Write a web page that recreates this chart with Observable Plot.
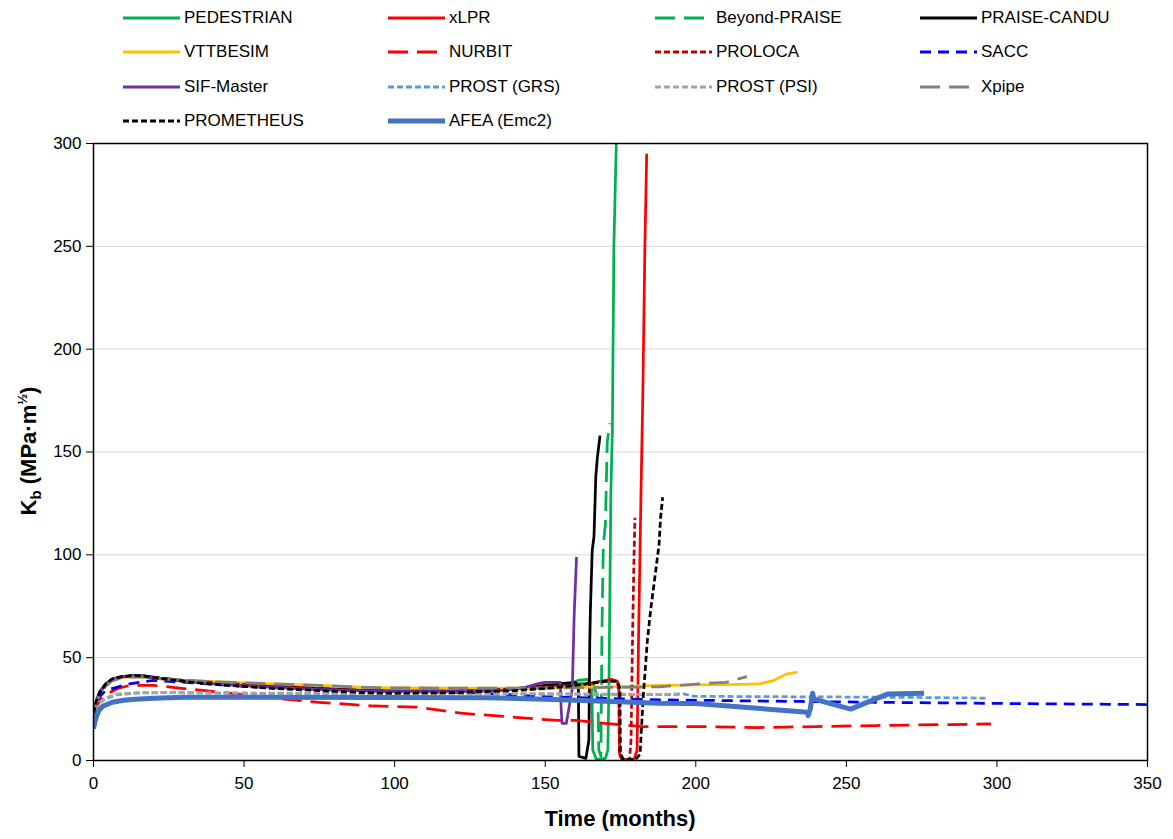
<!DOCTYPE html>
<html>
<head>
<meta charset="utf-8">
<script src="https://cdn.jsdelivr.net/npm/d3@7"></script>
<script src="https://cdn.jsdelivr.net/npm/@observablehq/plot@0.6"></script>
<style>
  body { margin: 0; background: #fff; font-family: Arial, "Liberation Sans", sans-serif; }
  #legend { position: relative; width: 1173px; height: 130px; }
  .item { position: absolute; display: flex; align-items: center; height: 24px; font-size: 17px; color: #000; white-space: nowrap; }
  .item svg { margin-right: 4px; }
</style>
</head>
<body>
<div id="legend"></div>
<div id="chart"></div>
<script>
// ---- Data: [time (months), Kb (MPa·m^1/2)] ----
const PEDESTRIAN = [[0,23],[1,29.5],[2,33.5],[4,37.3],[6,39.5],[9,40.8],[13,41.3],[17,41],[22,40],[30,39],[40,38],[50,37],[60,36],[75,35],[90,34.2],[100,34],[120,34],[140,35],[150,36],[158,37],[161,39],[164,39.5],[165.5,36],[165.8,5],[167,0.5],[170,1],[170.8,5],[171.2,40],[171.8,130],[172.3,160],[172.8,250],[173.6,300]];
const xLPR = [[0,23],[1,29],[2,33],[4,37],[6,39.3],[9,40.6],[13,41.2],[17,41],[22,40],[30,38.8],[40,38],[50,37],[60,36],[75,35],[90,34],[100,33.7],[120,33.8],[140,34.8],[155,36],[165,37.5],[168,38.5],[172,39.5],[174,38.5],[174.5,34],[174.7,3],[176,0.5],[179.5,0.5],[180.5,5],[181,60],[181.8,130],[182.4,177],[183.1,250],[183.7,295]];
const BeyondPRAISE = [[0,23],[1,29],[2,33],[4,37],[6,39.3],[9,40.6],[13,41.2],[17,41],[22,40],[30,38.8],[40,38],[50,37],[60,36],[75,35],[90,34],[100,33.8],[120,34],[140,35],[155,36.5],[163,37.5],[166,37],[167.5,30],[167.8,5],[168.5,2],[168.8,58],[169,79],[169.3,105],[170,115],[170.6,155],[171.5,164]];
const PRAISECANDU = [[0,23],[1,29],[2,33],[4,37],[6,39.3],[9,40.6],[13,41.2],[17,41],[22,40],[30,38.8],[40,38],[50,37],[60,36],[75,35],[90,34],[100,33.5],[115,33.5],[130,34],[140,35],[150,36.5],[156,37.5],[160,38],[161,36],[161.2,2],[163.5,1],[164.5,10],[164.8,58],[165,73],[165.6,102],[166.2,109],[166.8,138],[167.3,147],[168.2,158]];
const VTTBESIM = [[0,23],[1,29],[2,33],[4,37],[6,39],[9,40.3],[13,40.8],[17,40.5],[22,39.8],[30,39],[40,38.3],[50,37.8],[60,37.3],[75,36.5],[90,35.6],[100,35.3],[120,35.2],[150,35.2],[170,35.8],[188,36.5],[200,36.8],[215,37],[221,37.2],[226,39],[230,42],[233.7,43]];
const NURBIT = [[0,22],[1,26],[2,29],[4,32],[8,35],[12,36.5],[20,36.5],[30,35],[40,33.5],[50,32],[62,30],[75,28.3],[93,26.5],[107,26],[122,23],[140,21],[154,19.5],[160,19.5],[170,18],[182,16.5],[200,16.5],[220,16],[240,16.5],[260,17],[285,17.5],[298,17.8]];
const PROLOCA = [[0,23],[1,29],[2,33],[4,37],[6,39.3],[9,40.6],[13,41.2],[17,41],[22,40],[30,38.8],[40,38],[50,37],[60,36],[75,35],[90,34],[100,33.6],[120,33.8],[140,34.8],[155,36],[165,37.5],[172,39],[174,38.5],[174.5,33],[174.6,3],[175.5,0.5],[178,0.5],[178.5,10],[179,60],[179.5,100],[179.8,118]];
const SACC = [[0,21],[1,27],[2,31],[4,34],[8,35.7],[12,37.3],[19.5,38.9],[25,38.5],[35,37.5],[50,36],[75,34.5],[100,33.5],[125,33],[150,31],[175,30],[188,29.5],[235,28.7],[255,28.4],[288,27.9],[320,27.5],[350,27.2]];
const SIFMaster = [[0,23],[1,29],[2,33],[4,37],[6,39.4],[9,40.5],[13,41],[17,40.8],[22,39.8],[30,38.5],[40,37.3],[50,36.3],[60,35.5],[75,34.5],[90,33.8],[100,33.5],[120,33.5],[135,34],[142,35],[148,37.5],[150,38],[155,38],[155.3,25],[155.6,18],[157,18],[159,35],[159.6,70],[160.4,99]];
const PROSTGRS = [[0,20],[1,25],[2,28],[4,30],[8,32],[15,32.8],[25,33],[50,32.7],[100,32.5],[150,32.3],[188,32],[196,32.4],[199.4,31.2],[230,31],[260,30.8],[285,30.5],[297,30.3]];
const PROSTPSI = [[0,20],[1,25],[2,28.3],[4,30.5],[8.4,32.4],[15,33],[24,33],[50,32.8],[100,32.5],[150,32.5],[180,32.2],[195,32]];
const Xpipe = [[0,22],[1,28],[2,32],[4,36],[6,38.5],[9,40],[13,40.6],[17,40.5],[22,39.8],[30,39],[40,38.3],[50,37.8],[60,37.3],[75,36.5],[90,35.6],[100,35.3],[120,35.2],[150,35.2],[170,35.5],[188,35.8],[201,37.3],[210,38],[217,40.8]];
const PROMETHEUS = [[0,23],[1,29],[2,33],[4,37],[6,39.5],[9,40.6],[13,41.3],[17,41],[22,40],[30,38.5],[40,37],[50,36],[60,35],[75,34],[90,33],[100,32.7],[120,33],[140,34],[150,35],[160,36.5],[170,38.5],[174,38.5],[174.8,35],[175,3],[176,0.5],[180,0.5],[181.5,3],[182.5,30],[183.9,58],[185,73],[186.5,90],[187.8,105],[188.3,118],[189,128]];
const AFEA = [[0,15.5],[0.5,19],[1,21.5],[1.8,24.3],[3,26.3],[6.2,28.3],[10,29.3],[14,29.8],[20,30.3],[30,30.7],[50,30.8],[100,30.6],[130,30.5],[150,29.8],[170,28.8],[188,27.8],[200,27.7],[215,26],[237,23.5],[237.3,21.8],[238,25],[238.8,32.7],[239.2,30],[245,27.5],[251.4,25],[263.6,32.3],[275.8,32.7]];

const xTicks = [0,50,100,150,200,250,300,350];
const yTicks = [0,50,100,150,200,250,300];

// name, data, color, width, dash
const series = [
  ["PEDESTRIAN", PEDESTRIAN, "#00B050", 2.75, null],
  ["xLPR", xLPR, "#FF0000", 2.75, null],
  ["Beyond-PRAISE", BeyondPRAISE, "#00B050", 2.75, "20,9"],
  ["PRAISE-CANDU", PRAISECANDU, "#000000", 2.75, null],
  ["VTTBESIM", VTTBESIM, "#FFC000", 2.75, null],
  ["NURBIT", NURBIT, "#FF0000", 2.75, "20,9"],
  ["PROLOCA", PROLOCA, "#C00000", 2.75, "6,3"],
  ["SACC", SACC, "#0000FF", 2.75, "11,7"],
  ["SIF-Master", SIFMaster, "#7030A0", 2.75, null],
  ["PROST (GRS)", PROSTGRS, "#5B9BD5", 2.75, "6,3"],
  ["PROST (PSI)", PROSTPSI, "#A5A5A5", 2.75, "6,3"],
  ["Xpipe", Xpipe, "#808080", 2.75, "20,9"],
  ["PROMETHEUS", PROMETHEUS, "#000000", 2.75, "6,3"],
  ["AFEA (Emc2)", AFEA, "#4472C4", 5, null]
];

// ---- Legend ----
const legend = document.getElementById("legend");
const colX = [123, 388, 655, 920];
const rowY = [6, 40, 75, 109];
series.forEach(([name, , color, w, dash], i) => {
  const div = document.createElement("div");
  div.className = "item";
  div.style.left = colX[i % 4] + "px";
  div.style.top = rowY[Math.floor(i / 4)] + "px";
  div.innerHTML = `<svg width="57" height="10"><line x1="0" x2="57" y1="5" y2="5" stroke="${color}" stroke-width="${w === 5 ? 5 : 3}" ${dash ? `stroke-dasharray="${dash}"` : ""}/></svg><span>${name}</span>`;
  legend.appendChild(div);
});

// ---- Chart ----
const marks = [
  Plot.gridY(yTicks.filter(v => v > 0 && v < 300), {stroke: "#d9d9d9", strokeOpacity: 1, strokeWidth: 1}),
  ...series.map(([name, data, color, w, dash]) =>
    Plot.line(data, {x: d => d[0], y: d => d[1], stroke: color, strokeWidth: w,
      strokeDasharray: dash || undefined, strokeLinecap: "butt", strokeLinejoin: "round", clip: true})),
  Plot.frame({stroke: "#000", strokeWidth: 1.5}),
  Plot.axisX({ticks: xTicks, tickSize: 7, tickPadding: 9, fontSize: 17, label: null, tickFormat: d => d}),
  Plot.axisY({ticks: yTicks, tickSize: 7, tickPadding: 5, fontSize: 17, label: null, tickFormat: d => d})
];

const chart = Plot.plot({
  width: 1173,
  height: 709,
  marginTop: 13,
  marginBottom: 79,
  marginLeft: 93,
  marginRight: 26,
  style: {fontFamily: 'Arial, "Liberation Sans", sans-serif', color: "#000", background: "#fff"},
  x: {domain: [0, 350]},
  y: {domain: [0, 300]},
  marks
});
document.getElementById("chart").appendChild(chart);

const svg = d3.select(chart);
svg.append("text")
  .attr("x", 620).attr("y", 696)
  .attr("text-anchor", "middle")
  .attr("font-size", 22).attr("font-weight", "bold")
  .attr("font-family", 'Arial, "Liberation Sans", sans-serif')
  .attr("fill", "#000")
  .text("Time (months)");

const yl = svg.append("text")
  .attr("transform", "translate(36,321) rotate(-90)")
  .attr("text-anchor", "middle")
  .attr("font-size", 22).attr("font-weight", "bold")
  .attr("font-family", 'Arial, "Liberation Sans", sans-serif')
  .attr("fill", "#000");
yl.append("tspan").text("K");
yl.append("tspan").attr("font-size", 15).attr("dy", 5).text("b");
yl.append("tspan").attr("dy", -5).text(" (MPa·m");
yl.append("tspan").attr("font-size", 13).attr("dy", -9).text("½");
yl.append("tspan").attr("dy", 9).text(")");
</script>
</body>
</html>
